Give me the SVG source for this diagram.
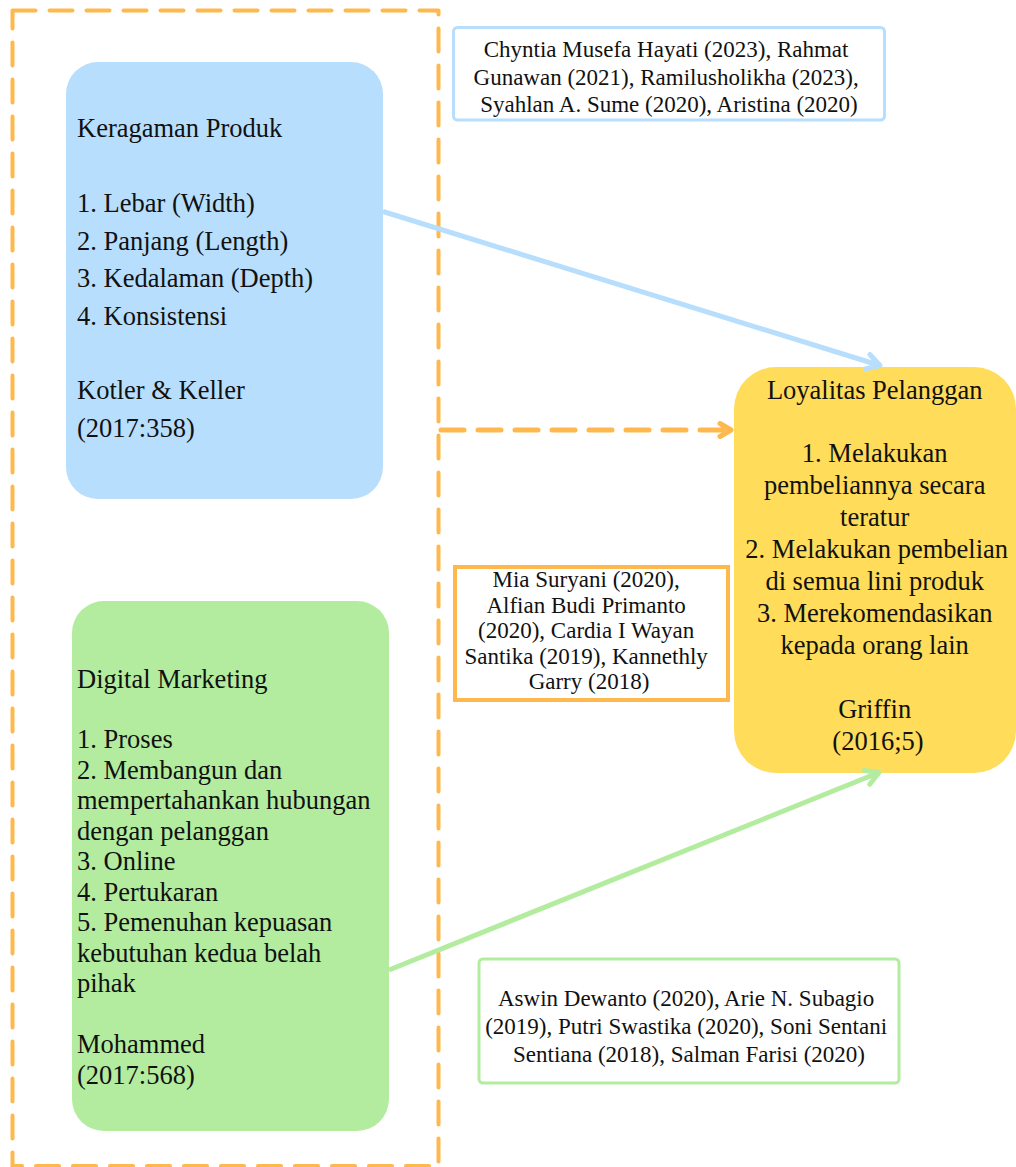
<svg xmlns="http://www.w3.org/2000/svg" width="1016" height="1167" viewBox="0 0 1016 1167">
  <style>
    .box { font-family: "Liberation Serif", "Times New Roman", serif; font-size: 26.5px; fill: #111; }
    .cite { font-family: "Liberation Serif", "Times New Roman", serif; font-size: 23px; fill: #111; text-anchor: middle; }
    .mid { text-anchor: middle; }
    .conn { fill: none; stroke-width: 5; }
  </style>
  <defs>
    <marker id="arrBlue" markerUnits="userSpaceOnUse" viewBox="0 0 20 20" markerWidth="20" markerHeight="20" refX="16" refY="10" orient="auto" overflow="visible">
      <path d="M3,2.5 L16,10 L3,17.5" fill="none" stroke="#B8DEFD" stroke-width="5" stroke-linecap="round" stroke-linejoin="round"/>
    </marker>
    <marker id="arrGreen" markerUnits="userSpaceOnUse" viewBox="0 0 20 20" markerWidth="20" markerHeight="20" refX="16" refY="10" orient="auto" overflow="visible">
      <path d="M3,2.5 L16,10 L3,17.5" fill="none" stroke="#B3EC9E" stroke-width="5" stroke-linecap="round" stroke-linejoin="round"/>
    </marker>
    <marker id="arrOrange" markerUnits="userSpaceOnUse" viewBox="0 0 20 20" markerWidth="20" markerHeight="20" refX="16" refY="10" orient="auto" overflow="visible">
      <path d="M5,3.5 L16,10 L5,16.5" fill="none" stroke="#FFB84D" stroke-width="5" stroke-linecap="round" stroke-linejoin="round"/>
    </marker>
  </defs>

  <rect width="1016" height="1167" fill="#ffffff"/>

  <g id="container">
    <rect x="12.5" y="10.5" width="426" height="1155.5" fill="none" stroke="#FFB84D" stroke-width="4" stroke-dasharray="23 14" stroke-linecap="round" stroke-linejoin="round"/>
  </g>

  <g id="keragaman-produk">
    <rect x="66" y="62" width="317" height="437" rx="32" ry="32" fill="#B8DEFD"/>
    <text class="box">
      <tspan x="77" y="137">Keragaman Produk</tspan>
      <tspan x="77" y="212">1. Lebar (Width)</tspan>
      <tspan x="77" y="249.5">2. Panjang (Length)</tspan>
      <tspan x="77" y="287">3. Kedalaman (Depth)</tspan>
      <tspan x="77" y="324.5">4. Konsistensi</tspan>
      <tspan x="77" y="399">Kotler &amp; Keller</tspan>
      <tspan x="77" y="436.5">(2017:358)</tspan>
    </text>
  </g>

  <g id="digital-marketing">
    <rect x="72" y="601" width="317" height="530" rx="32" ry="32" fill="#B3EC9E"/>
    <text class="box">
      <tspan x="77" y="688">Digital Marketing</tspan>
      <tspan x="77" y="748">1. Proses</tspan>
      <tspan x="77" y="778.5">2. Membangun dan</tspan>
      <tspan x="77" y="809">mempertahankan hubungan</tspan>
      <tspan x="77" y="839.5">dengan pelanggan</tspan>
      <tspan x="77" y="870">3. Online</tspan>
      <tspan x="77" y="900.5">4. Pertukaran</tspan>
      <tspan x="77" y="931">5. Pemenuhan kepuasan</tspan>
      <tspan x="77" y="961.5">kebutuhan kedua belah</tspan>
      <tspan x="77" y="992">pihak</tspan>
      <tspan x="77" y="1053">Mohammed</tspan>
      <tspan x="77" y="1083.5">(2017:568)</tspan>
    </text>
  </g>

  <g id="loyalitas-pelanggan">
    <rect x="734" y="367" width="282" height="406" rx="42" ry="42" fill="#FFDC5A"/>
    <text class="box mid">
      <tspan x="878" y="399">Loyalitas Pelanggan</tspan>
      <tspan x="878" y="462">1. Melakukan</tspan>
      <tspan x="878" y="494">pembeliannya secara</tspan>
      <tspan x="878" y="526">teratur</tspan>
      <tspan x="880" y="558">2. Melakukan pembelian</tspan>
      <tspan x="878" y="590">di semua lini produk</tspan>
      <tspan x="878" y="621.5">3. Merekomendasikan</tspan>
      <tspan x="878" y="653.5">kepada orang lain</tspan>
      <tspan x="878" y="717.5">Griffin</tspan>
      <tspan x="878" y="749.5">(2016;5)</tspan>
    </text>
  </g>

  <g id="cite-keragaman">
    <rect x="453.5" y="27.5" width="431" height="92.5" rx="4" ry="4" fill="#ffffff" stroke="#B8DEFD" stroke-width="3"/>
    <text class="cite">
      <tspan x="669" y="57">Chyntia Musefa Hayati (2023), Rahmat</tspan>
      <tspan x="669" y="84.5">Gunawan (2021), Ramilusholikha (2023),</tspan>
      <tspan x="669" y="112">Syahlan A. Sume (2020), Aristina (2020)</tspan>
    </text>
  </g>

  <g id="cite-simultan">
    <rect x="455" y="567" width="273" height="133" fill="#ffffff" stroke="#FFB84D" stroke-width="4"/>
    <text class="cite">
      <tspan x="589" y="587">Mia Suryani (2020),</tspan>
      <tspan x="589" y="612.5">Alfian Budi Primanto</tspan>
      <tspan x="589" y="638">(2020), Cardia I Wayan</tspan>
      <tspan x="589" y="663.5">Santika (2019), Kannethly</tspan>
      <tspan x="589" y="689">Garry (2018)</tspan>
    </text>
  </g>

  <g id="cite-digital">
    <rect x="479" y="959" width="420" height="124" rx="4" ry="4" fill="#ffffff" stroke="#B3EC9E" stroke-width="3"/>
    <text class="cite">
      <tspan x="689" y="1006">Aswin Dewanto (2020), Arie N. Subagio</tspan>
      <tspan x="689" y="1034">(2019), Putri Swastika (2020), Soni Sentani</tspan>
      <tspan x="689" y="1062">Sentiana (2018), Salman Farisi (2020)</tspan>
    </text>
  </g>

  <g id="connectors">
    <line class="conn" x1="383" y1="211.5" x2="880" y2="365.5" stroke="#B8DEFD" marker-end="url(#arrBlue)"/>
    <line class="conn" x1="389" y1="970" x2="879" y2="772.5" stroke="#B3EC9E" marker-end="url(#arrGreen)"/>
    <line class="conn" x1="441" y1="430" x2="731" y2="430" stroke="#FFB84D" stroke-dasharray="23 14" stroke-linecap="round" marker-end="url(#arrOrange)"/>
  </g>
</svg>
